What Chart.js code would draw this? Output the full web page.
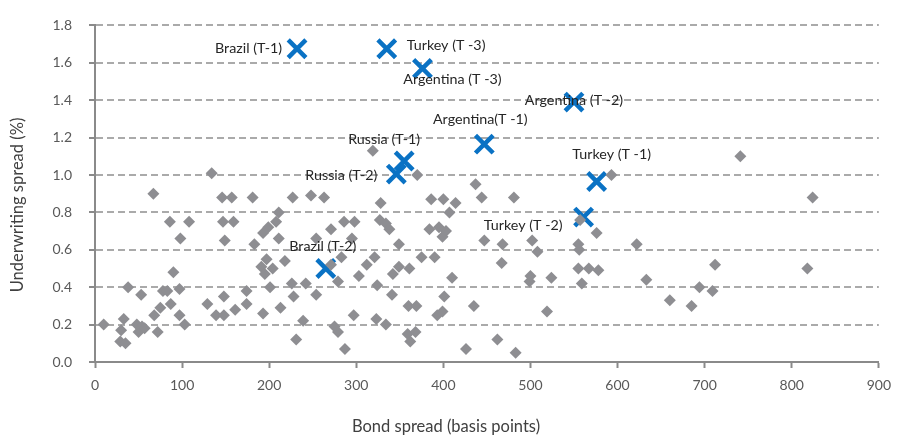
<!DOCTYPE html>
<html>
<head>
<meta charset="utf-8">
<script src="https://cdn.jsdelivr.net/npm/chart.js@4.4.3/dist/chart.umd.min.js"></script>
<style>
  html, body { margin: 0; padding: 0; background: #fff; }
  #wrap { width: 900px; height: 436px; position: relative; }
</style>
</head>
<body>
<div id="wrap"><canvas id="chart"></canvas></div>
<script>
// bond spread (bp) / underwriting spread (%) for all issues
const bondSpread = [
  10, 29, 35, 30, 33, 38, 48, 54, 50, 57, 53, 67, 68, 72, 75, 78, 83, 86, 87, 90,
  97, 97, 98, 103, 108, 129, 134, 139, 146, 147, 148, 148, 149, 157, 159, 161, 174, 174, 181, 183,
  191, 193, 193, 195, 197, 199, 201, 204, 208, 211, 211, 213, 218, 226, 227, 228, 231, 239, 242, 248,
  254, 254, 263, 271, 271, 275, 279, 279, 283, 286, 287, 295, 297, 298, 303, 312, 319, 321, 323, 324,
  327, 328, 334, 334, 338, 341, 342, 349, 349, 359, 360, 361, 362, 368, 369, 370, 375, 384, 386, 390,
  393, 395, 399, 399, 400, 401, 403, 407, 410, 414, 426, 435, 437, 444, 447, 462, 467, 468, 481, 483,
  499, 500, 502, 508, 519, 524, 555, 556, 557, 555, 559, 567, 576, 578, 593, 622, 633, 660, 685, 694,
  709, 712, 741, 818, 824
];
const uwSpread = [
  0.20, 0.11, 0.10, 0.17, 0.23, 0.40, 0.20, 0.19, 0.16, 0.18, 0.36, 0.90, 0.25, 0.16, 0.29, 0.38, 0.38, 0.75, 0.31, 0.48,
  0.39, 0.25, 0.66, 0.20, 0.75, 0.31, 1.01, 0.25, 0.88, 0.75, 0.35, 0.25, 0.65, 0.88, 0.75, 0.28, 0.38, 0.31, 0.88, 0.63,
  0.51, 0.69, 0.26, 0.47, 0.55, 0.72, 0.40, 0.50, 0.75, 0.80, 0.66, 0.29, 0.54, 0.42, 0.88, 0.35, 0.12, 0.22, 0.42, 0.89,
  0.66, 0.36, 0.88, 0.71, 0.52, 0.19, 0.16, 0.43, 0.56, 0.75, 0.07, 0.66, 0.25, 0.75, 0.46, 0.52, 1.13, 0.56, 0.23, 0.41,
  0.76, 0.85, 0.74, 0.20, 0.71, 0.36, 0.47, 0.63, 0.51, 0.15, 0.30, 0.50, 0.11, 0.16, 0.30, 1.00, 0.56, 0.71, 0.87, 0.56,
  0.25, 0.72, 0.67, 0.27, 0.87, 0.35, 0.70, 0.80, 0.45, 0.85, 0.07, 0.30, 0.95, 0.88, 0.65, 0.12, 0.53, 0.63, 0.88, 0.05,
  0.43, 0.46, 0.65, 0.59, 0.27, 0.45, 0.63, 0.60, 0.76, 0.50, 0.42, 0.50, 0.69, 0.49, 1.00, 0.63, 0.44, 0.33, 0.30, 0.40,
  0.38, 0.52, 1.10, 0.50, 0.88
];

// highlighted crisis episodes
const crisisLabels = [
  'Brazil (T-1)', 'Turkey (T -3)', 'Argentina (T -3)', 'Argentina (T -2)', 'Argentina(T -1)',
  'Russia (T-1)', 'Russia (T-2)', 'Turkey (T -1)', 'Turkey (T -2)', 'Brazil (T-2)'
];
const crisisBond = [232, 335, 376, 550, 447, 355, 346, 576, 561, 265];
const crisisUw = [1.675, 1.675, 1.57, 1.39, 1.165, 1.075, 1.005, 0.965, 0.775, 0.50];

const xTicks = [0, 100, 200, 300, 400, 500, 600, 700, 800, 900];
const yTicks = [0.0, 0.2, 0.4, 0.6, 0.8, 1.0, 1.2, 1.4, 1.6, 1.8];

const xTitle = 'Bond spread (basis points)';
const yTitle = 'Underwriting spread (%)';

// where each crisis label sits relative to its marker
const labelPlace = [
  { dx: -15, dy: 0, align: 'right' },
  { dx: 20, dy: -3, align: 'left' },
  { dx: 30, dy: 11, align: 'center' },
  { dx: 0, dy: -2, align: 'center' },
  { dx: -4, dy: -25, align: 'center' },
  { dx: -20, dy: -22, align: 'center' },
  { dx: -19, dy: 1, align: 'right' },
  { dx: 15, dy: -27, align: 'center' },
  { dx: -21, dy: 8, align: 'right' },
  { dx: -3, dy: -22, align: 'center' }
];

const FONT = 'Lato';
const axisGrey = '#8a8a8a';

const crisisLabelPlugin = {
  id: 'crisisLabels',
  afterDatasetsDraw(chart) {
    const meta = chart.getDatasetMeta(1);
    const ctx = chart.ctx;
    ctx.save();
    ctx.font = '14.3px ' + FONT;
    ctx.fillStyle = '#262626';
    ctx.textBaseline = 'middle';
    meta.data.forEach((pt, i) => {
      const p = labelPlace[i];
      ctx.textAlign = p.align;
      ctx.fillText(crisisLabels[i], pt.x + p.dx, pt.y + p.dy);
    });
    ctx.restore();
  }
};

// axis titles sit off-centre in the original, so place them by hand
const axisTitlePlugin = {
  id: 'axisTitles',
  afterDraw(chart) {
    const ctx = chart.ctx;
    ctx.save();
    ctx.font = '16.5px ' + FONT;
    ctx.fillStyle = '#404040';
    ctx.textAlign = 'center';
    ctx.textBaseline = 'middle';
    ctx.fillText(xTitle, 446, 427);
    ctx.translate(18, 205);
    ctx.rotate(-Math.PI / 2);
    ctx.fillText(yTitle, 0, 0);
    ctx.restore();
  }
};

const ctx = document.getElementById('chart').getContext('2d');
new Chart(ctx, {
  type: 'scatter',
  data: {
    datasets: [
      {
        label: 'All issues',
        data: bondSpread.map((x, i) => ({ x: x, y: uwSpread[i] })),
        pointStyle: 'rectRot',
        pointRadius: 6,
        pointBorderWidth: 0,
        backgroundColor: '#8e8e92',
        borderColor: '#8e8e92'
      },
      {
        label: 'Crisis',
        data: crisisBond.map((x, i) => ({ x: x, y: crisisUw[i] })),
        pointStyle: 'crossRot',
        pointRadius: 12.5,
        pointBorderWidth: 4.5,
        borderColor: '#0a72c4',
        backgroundColor: '#0a72c4'
      }
    ]
  },
  options: {
    responsive: true,
    maintainAspectRatio: false,
    animation: false,
    layout: { padding: { top: 22, right: 19, left: 0, bottom: 0 } },
    plugins: {
      legend: { display: false },
      tooltip: { enabled: false }
    },
    scales: {
      x: {
        type: 'linear',
        min: 0,
        max: 900,
        afterBuildTicks: axis => { axis.ticks = xTicks.map(v => ({ value: v })); },
        afterFit: axis => { axis.height = 74; },
        grid: {
          drawOnChartArea: false,
          drawTicks: true,
          tickLength: 6,
          tickColor: axisGrey,
          tickWidth: 2
        },
        border: { display: true, color: axisGrey, width: 2 },
        ticks: {
          color: '#595959',
          font: { family: FONT, size: 14 },
          padding: 9,
          maxRotation: 0
        },
        title: { display: false }
      },
      y: {
        type: 'linear',
        min: 0,
        max: 1.8,
        afterBuildTicks: axis => { axis.ticks = yTicks.map(v => ({ value: v })); },
        afterFit: axis => { axis.width = 95; },
        grid: {
          color: c => (c.tick && c.tick.value === 0 ? 'rgba(0,0,0,0)' : '#aaaaaa'),
          lineWidth: 2,
          drawTicks: true,
          tickLength: 6,
          tickColor: axisGrey,
          tickWidth: 2
        },
        border: { display: true, color: axisGrey, width: 2, dash: [7, 4] },
        ticks: {
          color: '#595959',
          font: { family: FONT, size: 14 },
          padding: 17,
          callback: v => Number(v).toFixed(1)
        },
        title: { display: false }
      }
    }
  },
  plugins: [crisisLabelPlugin, axisTitlePlugin]
});
</script>
</body>
</html>
